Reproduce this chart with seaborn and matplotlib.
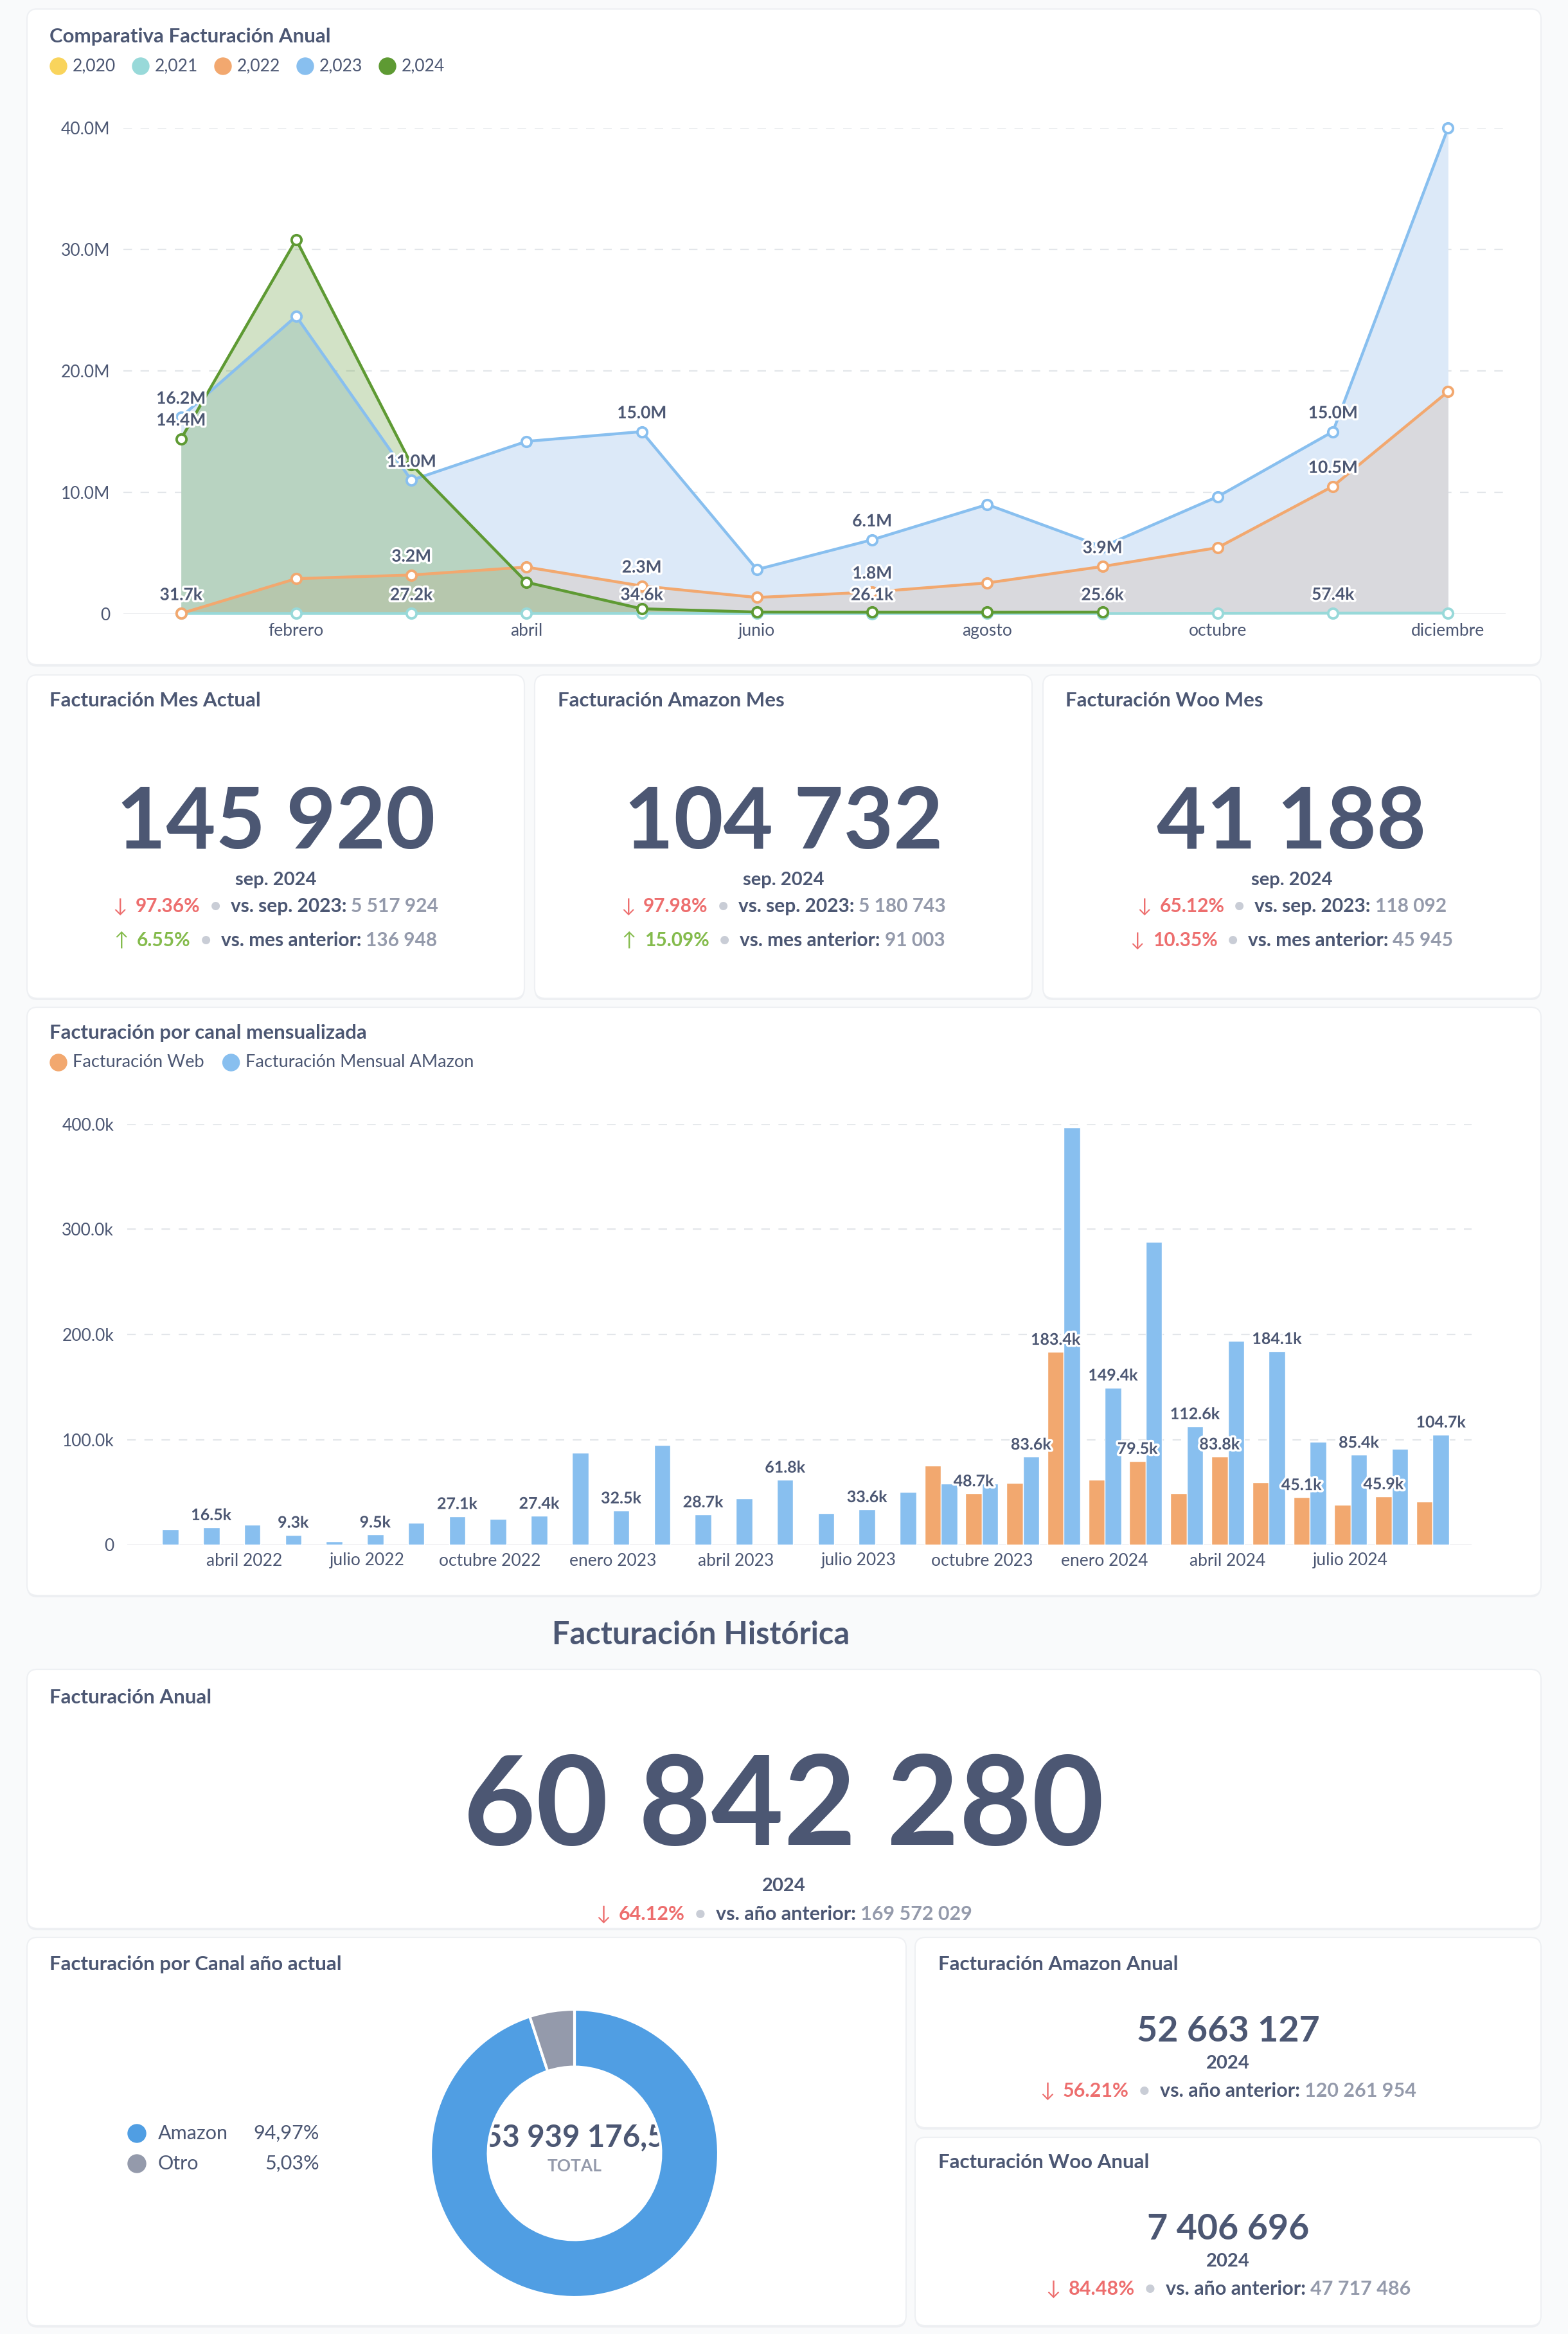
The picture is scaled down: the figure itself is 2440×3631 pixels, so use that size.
import numpy as np
import pandas as pd
import seaborn as sns
import matplotlib.pyplot as plt
import matplotlib.patheffects as pe
from matplotlib.patches import FancyBboxPatch, Circle

# ---------------- datos ----------------
meses = ['enero', 'febrero', 'marzo', 'abril', 'mayo', 'junio', 'julio',
         'agosto', 'septiembre', 'octubre', 'noviembre', 'diciembre']
anios = ['2,020', '2,021', '2,022', '2,023', '2,024']
fact_2020 = [None] * 12
fact_2021 = [31.7e3, 29.5e3, 27.2e3, 30.8e3, 34.6e3, 28.9e3, 26.1e3, 27.3e3, 25.6e3, 41.2e3, 57.4e3, 63.0e3]
fact_2022 = [0.03e6, 2.9e6, 3.2e6, 3.85e6, 2.3e6, 1.35e6, 1.8e6, 2.55e6, 3.9e6, 5.45e6, 10.5e6, 18.3e6]
fact_2023 = [16.2e6, 24.5e6, 11.0e6, 14.2e6, 15.0e6, 3.65e6, 6.1e6, 9.0e6, 5.52e6, 9.65e6, 15.0e6, 40.0e6]
fact_2024 = [14.4e6, 30.8e6, 12.3e6, 2.6e6, 0.42e6, 0.15e6, 0.14e6, 0.137e6, 0.146e6, None, None, None]

meses_canal = ['2022-02', '2022-03', '2022-04', '2022-05', '2022-06', '2022-07', '2022-08', '2022-09',
               '2022-10', '2022-11', '2022-12', '2023-01', '2023-02', '2023-03', '2023-04', '2023-05',
               '2023-06', '2023-07', '2023-08', '2023-09', '2023-10', '2023-11', '2023-12', '2024-01',
               '2024-02', '2024-03', '2024-04', '2024-05', '2024-06', '2024-07', '2024-08', '2024-09']
canales_bar = ['Facturación Web', 'Facturación Mensual AMazon']
fact_web = [None] * 19 + [75.2e3, 48.7e3, 58.7e3, 183.4e3, 61.5e3, 79.5e3, 49.2e3, 83.8e3,
                          59.4e3, 45.1e3, 38.0e3, 45.945e3, 41.188e3]
fact_amazon = [14.8e3, 16.5e3, 19.0e3, 9.3e3, 2.8e3, 9.5e3, 21.1e3, 27.1e3, 24.3e3, 27.4e3,
               87.2e3, 32.5e3, 94.6e3, 28.7e3, 44.3e3, 61.8e3, 29.9e3, 33.6e3, 50.3e3, 58.4e3,
               58.0e3, 83.6e3, 397.2e3, 149.4e3, 288.3e3, 112.6e3, 193.7e3, 184.1e3, 97.7e3, 85.4e3,
               91.003e3, 104.732e3]
ticks_canal = ['abril 2022', 'julio 2022', 'octubre 2022', 'enero 2023', 'abril 2023',
               'julio 2023', 'octubre 2023', 'enero 2024', 'abril 2024', 'julio 2024']

canales_pie = ['Amazon', 'Otro']
pct_pie = [94.97, 5.03]
total_pie = '53 939 176,5'

kpi_mes_titulos = ['Facturación Mes Actual', 'Facturación Amazon Mes', 'Facturación Woo Mes']
kpi_mes_valor = ['145 920', '104 732', '41 188']
kpi_mes_yoy = [-97.36, -97.98, -65.12]
kpi_mes_yoy_ref = ['5 517 924', '5 180 743', '118 092']
kpi_mes_mom = [6.55, 15.09, -10.35]
kpi_mes_mom_ref = ['136 948', '91 003', '45 945']

kpi_anual_valor = ['60 842 280', '52 663 127', '7 406 696']
kpi_anual_var = [-64.12, -56.21, -84.48]
kpi_anual_ref = ['169 572 029', '120 261 954', '47 717 486']

# ---------------- estilo ----------------
sns.set_theme(style='white')
plt.rcParams['font.family'] = ['Lato', 'DejaVu Sans']

DARK = '#4C5773'
GRAY = '#949AAB'
RED = '#ED6E6E'
GREEN = '#84BB4C'
DOT = '#C9CDD6'
TITLE = 22.5
pal_line = {'2,020': '#F9D45C', '2,021': '#98D9D9', '2,022': '#F2A86F', '2,023': '#88BFEF', '2,024': '#5E9A33'}
fill_col = {'2,023': '#DCE9F8', '2,022': '#D9D9DD'}

W, H = 2440, 3631
fig = plt.figure(figsize=(W / 100, H / 100), dpi=100)
fig.patch.set_facecolor('#F9FAFB')

bg = fig.add_axes([0, 0, 1, 1])
bg.set_xlim(0, W)
bg.set_ylim(H, 0)
bg.axis('off')
bg.set_zorder(0)


def px_axes(x0, y0, x1, y1):
    a = fig.add_axes([x0 / W, 1 - y1 / H, (x1 - x0) / W, (y1 - y0) / H])
    a.set_facecolor('none')
    a.set_zorder(2)
    return a


def card(x0, y0, x1, y1):
    bg.add_patch(FancyBboxPatch((x0, y0 + 3), x1 - x0, y1 - y0,
                                boxstyle='round,pad=0,rounding_size=16', fc='#1F2D4D', alpha=0.05, ec='none'))
    bg.add_patch(FancyBboxPatch((x0, y0), x1 - x0, y1 - y0,
                                boxstyle='round,pad=0,rounding_size=16', fc='white', ec='#EEF0F3', lw=1.5))


renderer = fig.canvas.get_renderer()


def kpi_line(cx, y, pct, ref_txt, ref_val, size=21.5):
    col = RED if pct < 0 else GREEN
    arrow = '↓' if pct < 0 else '↑'
    parts = [(arrow, col, 'normal', 13), ('{:.2f}%'.format(abs(pct)), col, 'bold', 15),
             ('•', DOT, 'bold', 15), (ref_txt, DARK, 'bold', 7), (ref_val, GRAY, 'bold', 0)]
    texts = []
    for s, c, w, gap in parts:
        t = bg.text(0, y, s, color=c, fontsize=size, fontweight=w, ha='left', va='center')
        texts.append((t, gap))
    widths = [t.get_window_extent(renderer).width for t, _ in texts]
    total = sum(widths) + sum(g for _, g in texts[:-1])
    x = cx - total / 2
    for (t, g), w in zip(texts, widths):
        t.set_x(x)
        x += w + g


def fmt(v):
    return '{:.1f}M'.format(v / 1e6) if v >= 1e6 else '{:.1f}k'.format(v / 1e3)


stroke = [pe.withStroke(linewidth=5, foreground='white')]

# ---------------- tarjetas ----------------
card(42, 14, 2398, 1034)
card(42, 1050, 816, 1553)
card(832, 1050, 1606, 1553)
card(1623, 1050, 2398, 1553)
card(42, 1567, 2398, 2482)
card(42, 2597, 2398, 3000)
card(42, 3014, 1410, 3618)
card(1424, 3014, 2398, 3310)
card(1424, 3325, 2398, 3618)

# ---------------- comparativa anual ----------------
bg.text(77, 57, 'Comparativa Facturación Anual', fontsize=TITLE, fontweight='bold', color=DARK, va='center')
for k, a in enumerate(anios):
    x = 91 + k * 128
    bg.add_patch(Circle((x, 103), 13, color=pal_line[a]))
    bg.text(x + 22, 103, a, fontsize=19, color=DARK, va='center')

series = {'2,020': fact_2020, '2,021': fact_2021, '2,022': fact_2022, '2,023': fact_2023, '2,024': fact_2024}
rows = []
for a in anios:
    for i, v in enumerate(series[a]):
        rows.append({'mes': i, 'anio': a, 'valor': v})
df_line = pd.DataFrame(rows).dropna()

ax = px_axes(192, 199, 2343, 955)
idx = np.arange(12)
f23 = np.array(fact_2023, dtype=float)
f22 = np.array(fact_2022, dtype=float)
f24 = np.array(fact_2024, dtype=float)
ax.fill_between(idx, f23, color=fill_col['2,023'], lw=0, zorder=1)
ax.fill_between(idx, f22, color=fill_col['2,022'], lw=0, zorder=1)
ok = ~np.isnan(f24)
ax.fill_between(idx[ok], f24[ok], color=pal_line['2,024'], alpha=0.28, lw=0, zorder=1)

sns.lineplot(data=df_line, x='mes', y='valor', hue='anio', hue_order=anios[1:],
             palette=pal_line, marker='o', markersize=11, markerfacecolor='white',
             markeredgecolor='auto', markeredgewidth=2.8, linewidth=3.2, legend=False,
             ax=ax, zorder=3, clip_on=False)

ax.set_xlim(-0.5, 11.5)
ax.set_ylim(0, 40e6)
ax.set_yticks([0, 10e6, 20e6, 30e6, 40e6])
ax.set_yticklabels(['0', '10.0M', '20.0M', '30.0M', '40.0M'])
ax.set_xticks(range(1, 12, 2))
ax.set_xticklabels([meses[i] for i in range(1, 12, 2)])
ax.tick_params(axis='both', length=0, labelsize=19, labelcolor=DARK)
ax.tick_params(axis='y', pad=15)
ax.tick_params(axis='x', pad=10)
ax.set_xlabel('')
ax.set_ylabel('')
for s in ax.spines.values():
    s.set_visible(False)
for yv in [10e6, 20e6, 30e6, 40e6]:
    ax.axhline(yv, color='#E3E6EA', lw=1.6, dashes=(6, 6), zorder=0)
ax.axhline(0, color='#EDEEF0', lw=2, zorder=0)

placed = {}
for a in ['2,021', '2,022', '2,023', '2,024']:
    for i in range(0, 12, 2):
        v = series[a][i]
        if v is None:
            continue
        if any(abs(v - p) < 1.7e6 for p in placed.get(i, [])):
            continue
        placed.setdefault(i, []).append(v)
        ax.annotate(fmt(v), (i, v), xytext=(0, 15), textcoords='offset points', ha='center',
                    va='baseline', fontsize=19, fontweight='bold', color=DARK,
                    path_effects=stroke, zorder=5, annotation_clip=False)

# ---------------- KPIs del mes ----------------
centros = [429, 1219, 2010]
lefts = [77, 868, 1658]
for k in range(3):
    bg.text(lefts[k], 1090, kpi_mes_titulos[k], fontsize=TITLE, fontweight='bold', color=DARK, va='center')
    bg.text(centros[k], 1282, kpi_mes_valor[k], fontsize=96, fontweight='bold', color=DARK,
            ha='center', va='center')
    bg.text(centros[k], 1369, 'sep. 2024', fontsize=21, fontweight='bold', color=DARK,
            ha='center', va='center')
    kpi_line(centros[k], 1410, kpi_mes_yoy[k], 'vs. sep. 2023:', kpi_mes_yoy_ref[k])
    kpi_line(centros[k], 1463, kpi_mes_mom[k], 'vs. mes anterior:', kpi_mes_mom_ref[k])

# ---------------- facturación por canal ----------------
bg.text(77, 1607, 'Facturación por canal mensualizada', fontsize=TITLE, fontweight='bold', color=DARK, va='center')
bar_cols = {'Facturación Web': '#F2A86F', 'Facturación Mensual AMazon': '#88BFEF'}
lx = 91
for c in canales_bar:
    bg.add_patch(Circle((lx, 1653), 13, color=bar_cols[c]))
    t = bg.text(lx + 22, 1653, c, fontsize=19.5, color=DARK, va='center')
    lx += 22 + t.get_window_extent(renderer).width + 42

df_bar = pd.DataFrame({'mes': meses_canal * 2,
                       'canal': [canales_bar[0]] * len(meses_canal) + [canales_bar[1]] * len(meses_canal),
                       'valor': fact_web + fact_amazon}).dropna()

ax2 = px_axes(198, 1749, 2290, 2403)
sns.barplot(data=df_bar, x='mes', y='valor', hue='canal', order=meses_canal, hue_order=canales_bar,
            palette=bar_cols, errorbar=None, width=0.8, saturation=1, legend=False, ax=ax2, zorder=3)
ax2.set_xlim(-0.85, 31.95)
ax2.set_ylim(0, 400e3)
ax2.set_yticks([0, 100e3, 200e3, 300e3, 400e3])
ax2.set_yticklabels(['0', '100.0k', '200.0k', '300.0k', '400.0k'])
ax2.set_xticks(range(2, 32, 3))
ax2.set_xticklabels(ticks_canal)
ax2.tick_params(axis='both', length=0, labelsize=19, labelcolor=DARK)
ax2.tick_params(axis='y', pad=15)
ax2.tick_params(axis='x', pad=9)
ax2.set_xlabel('')
ax2.set_ylabel('')
for s in ax2.spines.values():
    s.set_visible(False)
for yv in [100e3, 200e3, 300e3, 400e3]:
    ax2.axhline(yv, color='#E3E6EA', lw=1.6, dashes=(6, 6), zorder=0)
ax2.axhline(0, color='#EDEEF0', lw=2, zorder=1)

# etiquetas: Web en meses pares, Amazon en impares, ocultando las que se pisan
etiquetas = []
for cont, canal in zip(ax2.containers, canales_bar):
    es_web = canal == canales_bar[0]
    for p in cont.patches:
        h = p.get_height()
        if np.isnan(h) or h <= 0:
            continue
        xc = p.get_x() + p.get_width() / 2
        slot = int(round(xc))
        if (es_web and slot % 2 == 0) or (not es_web and slot % 2 == 1):
            if any(abs(xc - ex) < 1.2 and abs(h - eh) < 15e3 for ex, eh in etiquetas):
                continue
            etiquetas.append((xc, h))
            ax2.annotate(fmt(h), (xc, h), xytext=(0, 8), textcoords='offset points', ha='center',
                         va='baseline', fontsize=18, fontweight='bold', color=DARK,
                         path_effects=stroke, zorder=5, annotation_clip=False)

# ---------------- facturación histórica ----------------
bg.text(1091, 2544, 'Facturación Histórica', fontsize=35, fontweight='bold', color=DARK, ha='center', va='center')
bg.text(77, 2641, 'Facturación Anual', fontsize=TITLE, fontweight='bold', color=DARK, va='center')
bg.text(1220, 2814, kpi_anual_valor[0], fontsize=140, fontweight='bold', color=DARK, ha='center', va='center')
bg.text(1220, 2934, '2024', fontsize=21, fontweight='bold', color=DARK, ha='center', va='center')
kpi_line(1220, 2978, kpi_anual_var[0], 'vs. año anterior:', kpi_anual_ref[0], size=22)

# donut
bg.text(77, 3056, 'Facturación por Canal año actual', fontsize=TITLE, fontweight='bold', color=DARK, va='center')
pie_cols = ['#509EE3', '#949AAB']
for k, (c, pv) in enumerate(zip(canales_pie, pct_pie)):
    yy = 3319 + k * 47
    bg.add_patch(Circle((213, yy), 14, color=pie_cols[k]))
    bg.text(246, yy, c, fontsize=22, color=DARK, va='center')
    bg.text(497, yy, '{:.2f}%'.format(pv).replace('.', ','), fontsize=22, color=DARK, ha='right', va='center')

R = 224
ax3 = px_axes(894 - R, 3350 - R, 894 + R, 3350 + R)
ax3.pie(pct_pie, colors=pie_cols, startangle=90, counterclock=False, radius=1,
        wedgeprops=dict(width=0.4, edgecolor='white', linewidth=3))
ax3.set_xlim(-1, 1)
ax3.set_ylim(-1, 1)
ax3.set_aspect('equal')
ax3.axis('off')
ax3.text(0, 0.11, total_pie, fontsize=34, fontweight='bold', color=DARK, ha='center', va='center', zorder=0.5)
ax3.text(0, -0.09, 'TOTAL', fontsize=19, fontweight='bold', color=GRAY, ha='center', va='center', zorder=0.5)

# amazon / woo anual
tit_anual = ['Facturación Amazon Anual', 'Facturación Woo Anual']
for k in range(2):
    oy = k * 308
    bg.text(1460, 3056 + oy, tit_anual[k], fontsize=TITLE, fontweight='bold', color=DARK, va='center')
    bg.text(1911, 3160 + oy, kpi_anual_valor[k + 1], fontsize=40, fontweight='bold', color=DARK,
            ha='center', va='center')
    bg.text(1911, 3210 + oy, '2024', fontsize=21, fontweight='bold', color=DARK, ha='center', va='center')
    kpi_line(1911, 3253 + oy, kpi_anual_var[k + 1], 'vs. año anterior:', kpi_anual_ref[k + 1], size=22)

fig.savefig('out.png', dpi=100, facecolor=fig.get_facecolor())
